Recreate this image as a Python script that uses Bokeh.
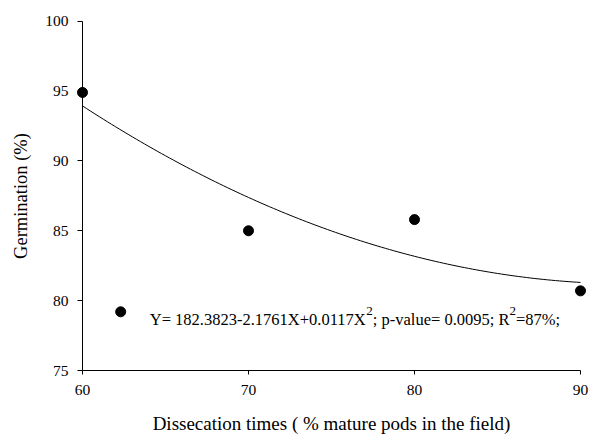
from bokeh.plotting import figure
from bokeh.models import Range1d, FixedTicker, Label
from bokeh.embed import file_html
from bokeh.resources import INLINE
import numpy as np

# ---- data ----
x_points = [60.0, 62.3, 70.0, 80.0, 90.0]
y_points = [94.9, 79.2, 85.0, 85.8, 80.7]

# fitted quadratic, coefficients as printed on the chart
b0, b1, b2 = 182.3823, -2.1761, 0.0117
x_fit = np.linspace(60, 90, 121)
y_fit = b0 + b1 * x_fit + b2 * x_fit ** 2

x_ticks = [60, 70, 80, 90]
y_ticks = [75, 80, 85, 90, 95, 100]

eq_parts = ["Y= 182.3823-2.1761X+0.0117X", "2", "; p-value= 0.0095; R", "2", "=87%;"]

FONT = "Liberation Serif"

# ---- layout: the frame covers the whole canvas; axes sit at fixed data locations ----
W, H = 590, 435
px_left, px_right = 82, 580        # pixel positions of x = 60 and x = 90
px_top, px_bottom = 20.7, 370      # pixel positions of y = 100 and y = 75
xs = 30 / (px_right - px_left)
ys = 25 / (px_bottom - px_top)
x_rng = Range1d(60 - px_left * xs, 90 + (W - px_right) * xs)
y_rng = Range1d(75 - (H - px_bottom) * ys, 100 + px_top * ys)

p = figure(width=W, height=H, output_backend="svg", toolbar_location=None,
           x_range=x_rng, y_range=y_rng,
           min_border_left=0, min_border_right=0, min_border_top=0, min_border_bottom=0)
p.outline_line_color = None
p.xgrid.visible = False
p.ygrid.visible = False
p.background_fill_color = "white"
p.border_fill_color = "white"

# axes
p.yaxis.fixed_location = 60
p.xaxis.fixed_location = 75
p.xaxis.bounds = (60, 90)
p.yaxis.bounds = (75, 100)
p.xaxis.ticker = FixedTicker(ticks=x_ticks)
p.yaxis.ticker = FixedTicker(ticks=y_ticks)
for ax in (p.xaxis[0], p.yaxis[0]):
    ax.minor_tick_line_color = None
    ax.major_tick_in = 0
    ax.axis_line_color = "black"
    ax.major_tick_line_color = "black"
    ax.axis_line_width = 1
    ax.major_label_text_font = FONT
    ax.major_label_text_font_size = "15.5px"
    ax.major_label_text_color = "black"
    ax.axis_label_text_font = FONT
    ax.axis_label_text_font_style = "normal"
    ax.axis_label_text_color = "black"
p.xaxis.axis_label_text_font_size = "19px"
p.yaxis.axis_label_text_font_size = "18.5px"
p.xaxis.major_tick_out = 4
p.yaxis.major_tick_out = 5
p.xaxis.major_label_standoff = 10
p.yaxis.major_label_standoff = 9
p.xaxis.axis_label = "Dissecation times ( % mature pods in the field)"
p.yaxis.axis_label = "Germination (%)"
p.xaxis.axis_label_standoff = 15
p.yaxis.axis_label_standoff = 11

# curve and points
p.line(x_fit, y_fit, line_color="black", line_width=1)
p.scatter(x_points, y_points, size=10, marker="circle", fill_color="black", line_color="black")

# equation text with superscripts
fs_main, fs_sup = 16.5, 13.0
em = [13.127, 0.5, 8.286, 0.5, 2.675]
sizes = [fs_main, fs_sup, fs_main, fs_sup, fs_main]
raise_px = [0, 9, 0, 9, 0]
off = 0.0
for txt, w, fs, r in zip(eq_parts, em, sizes, raise_px):
    p.add_layout(Label(x=64.05, y=78.65, x_offset=off, y_offset=r, text=txt,
                       text_font=FONT, text_font_size=f"{fs}px", text_color="black",
                       text_baseline="alphabetic", text_align="left"))
    off += w * fs

open("out.html", "w").write(file_html(p, INLINE))
